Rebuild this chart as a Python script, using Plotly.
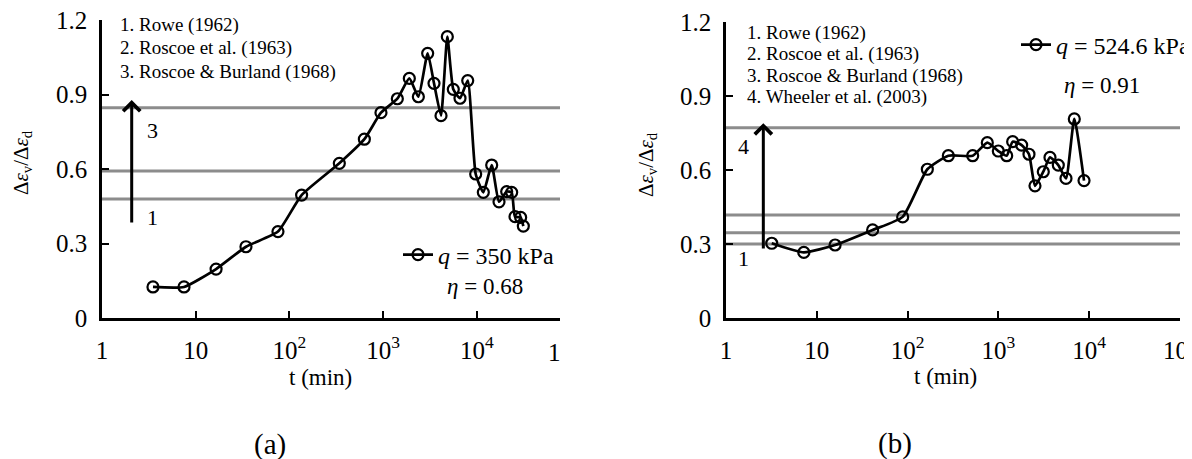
import plotly.graph_objects as go

# ---- data ----
t_a = [3.5, 7.5, 16.5, 34.4, 75.5, 135, 341, 631, 949, 1419, 1905, 2378, 2990, 3494,
       4150, 4846, 5613, 6618, 8000, 9731, 11740, 14420, 17260, 20840, 23570, 25570,
       29380, 31380]
r_a = [0.125, 0.125, 0.197, 0.287, 0.348, 0.495, 0.623, 0.72, 0.827, 0.883, 0.965,
       0.891, 1.066, 0.945, 0.815, 1.133, 0.921, 0.885, 0.956, 0.58, 0.506, 0.616,
       0.468, 0.509, 0.506, 0.408, 0.405, 0.37]
t_b = [3.19, 7.2, 15.9, 41.2, 88.3, 165, 281, 521, 755, 998, 1234, 1436, 1804, 2172,
       2529, 3123, 3700, 4570, 5550, 6855, 8770]
r_b = [0.303, 0.266, 0.296, 0.357, 0.41, 0.603, 0.658, 0.658, 0.711, 0.677, 0.658,
       0.715, 0.701, 0.664, 0.536, 0.593, 0.651, 0.62, 0.566, 0.807, 0.557]
ref_a = [0.847, 0.592, 0.479]
ref_b = [0.771, 0.418, 0.346, 0.30]
refs_a_text = ["1. Rowe (1962)", "2. Roscoe et al. (1963)", "3. Roscoe & Burland (1968)"]
refs_b_text = ["1. Rowe (1962)", "2. Roscoe et al. (1963)", "3. Roscoe & Burland (1968)",
               "4. Wheeler et al. (2003)"]
ytick_vals = [0, 0.3, 0.6, 0.9, 1.2]
ytick_text = ["0", "0.3", "0.6", "0.9", "1.2"]
xtick_vals = [1, 10, 100, 1000, 10000, 100000]
xtick_text = ["1", "10", "10<sup>2</sup>", "10<sup>3</sup>", "10<sup>4</sup>", "10<sup>5</sup>"]

W, H = 1192, 459
OFF = 8  # page body margin
FONT = "Liberation Serif"

def px(x):
    return (x - OFF) / W

def py(y):
    return 1 - (y - OFF) / H

trace_style = dict(line=dict(color="black", width=2.7, shape="spline", smoothing=0.5),
                   marker=dict(symbol="circle-open", size=11, color="black",
                               line=dict(width=2.2, color="black")))
fig = go.Figure()
fig.add_trace(go.Scatter(x=t_a, y=r_a, mode="lines+markers", xaxis="x", yaxis="y",
                         name="<i>q</i> = 350 kPa", legend="legend", **trace_style))
fig.add_trace(go.Scatter(x=t_b, y=r_b, mode="lines+markers", xaxis="x2", yaxis="y2",
                         name="<i>q</i> = 524.6 kPa", legend="legend2", **trace_style))

axis_common = dict(showline=True, linecolor="black", linewidth=2.5, ticks="inside",
                   ticklen=7, tickwidth=2, tickcolor="black", showgrid=False,
                   zeroline=False, automargin=False, ticklabeloverflow="allow",
                   tickfont=dict(family=FONT, size=25, color="black"))

fig.update_layout(
    width=W, height=H, margin=dict(l=0, r=0, t=0, b=0, autoexpand=False),
    paper_bgcolor="white", plot_bgcolor="white",
    font=dict(family=FONT, color="black"),
    xaxis=dict(axis_common, type="log", domain=[px(102), px(560)], range=[0, 4.888],
               tickvals=xtick_vals, ticktext=xtick_text, anchor="y", ticklabelstandoff=8),
    yaxis=dict(axis_common, domain=[py(318), py(20)], range=[0, 1.2001], tickvals=ytick_vals,
               ticktext=ytick_text, anchor="x", ticklabelstandoff=7),
    xaxis2=dict(axis_common, type="log", domain=[px(726), px(1180)], range=[0, 5.0001],
                tickvals=xtick_vals, ticktext=xtick_text, anchor="y2", ticklabelstandoff=8),
    yaxis2=dict(axis_common, domain=[py(318), py(22)], range=[0, 1.2001], tickvals=ytick_vals,
                ticktext=ytick_text, anchor="x2", ticklabelstandoff=7),
    legend=dict(x=px(398), y=py(255), xanchor="left", yanchor="middle",
                bgcolor="rgba(0,0,0,0)", font=dict(family=FONT, size=24, color="black")),
    legend2=dict(x=px(1016), y=py(45), xanchor="left", yanchor="middle",
                 bgcolor="rgba(0,0,0,0)", font=dict(family=FONT, size=24, color="black")),
    showlegend=True,
)

# reference lines
for v in ref_a:
    fig.add_shape(type="line", xref="x domain", yref="y", x0=0, x1=1, y0=v, y1=v,
                  line=dict(color="#8c8c8c", width=3), layer="below")
for v in ref_b:
    fig.add_shape(type="line", xref="x2 domain", yref="y2", x0=0, x1=1, y0=v, y1=v,
                  line=dict(color="#8c8c8c", width=3), layer="below")

ann = []

def text_ann(x, y, s, size, xanchor="center", angle=0):
    return dict(x=px(x), y=py(y), xref="paper", yref="paper", text=s, showarrow=False,
                xanchor=xanchor, yanchor="middle", textangle=angle,
                font=dict(family=FONT, size=size, color="black"))

for i, s in enumerate(refs_a_text):
    ann.append(text_ann(118, 25 + i * 23.3, s, 19, "left"))
for i, s in enumerate(refs_b_text):
    ann.append(text_ann(745, 33 + i * 21.3, s, 19, "left"))
# arrows
ann.append(dict(x=0.317, y=0.878, ax=0.317, ay=0.379, xref="x", yref="y", axref="x",
                ayref="y", text="", showarrow=True, arrowhead=4, arrowsize=1.1,
                arrowwidth=3, arrowcolor="black"))
ann.append(dict(x=0.411, y=0.79, ax=0.411, ay=0.276, xref="x2", yref="y2", axref="x2",
                ayref="y2", text="", showarrow=True, arrowhead=4, arrowsize=1.1,
                arrowwidth=3, arrowcolor="black"))
for (xx, yy, s) in [(152, 130, "3"), (152, 218, "1"), (743, 147, "4"), (743, 258, "1")]:
    ann.append(text_ann(xx, yy, s, 22))
# eta labels
ann.append(text_ann(445, 286, "<i>η</i> = 0.68", 23, "left"))
ann.append(text_ann(1062, 85, "<i>η</i> = 0.91", 23, "left"))
# y titles
ytitle = "Δ<i>ε</i><sub>v</sub>/Δ<i>ε</i><sub>d</sub>"
ann.append(text_ann(22, 163, ytitle, 21, angle=-90))
ann.append(text_ann(647, 165, ytitle, 21, angle=-90))
# x titles
ann.append(text_ann(320, 377, "t (min)", 23))
ann.append(text_ann(945, 376, "t (min)", 23))
# cut-off tick label at left panel edge
ann.append(text_ann(563, 352, "1", 25, "right"))
# captions
ann.append(text_ann(270, 444, "(a)", 29))
ann.append(text_ann(895, 443, "(b)", 29))
fig.update_layout(annotations=ann)

fig.write_html("out.html")
